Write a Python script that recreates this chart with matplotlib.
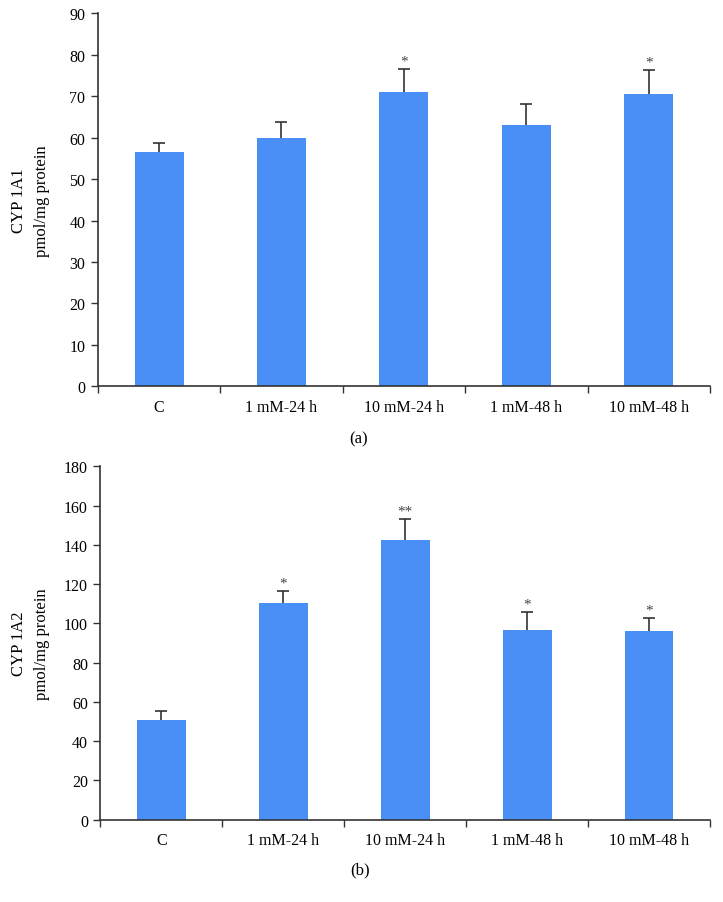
import matplotlib.pyplot as plt
import numpy as np

plt.rcParams['font.family'] = ['Liberation Serif', 'DejaVu Serif']

groups = ['C', '1 mM-24 h', '10 mM-24 h', '1 mM-48 h', '10 mM-48 h']

cyp1a1 = [56.5, 60.0, 71.0, 63.1, 70.5]
cyp1a1_err = [2.2, 3.8, 5.6, 4.9, 5.8]
cyp1a1_sig = ['', '', '*', '', '*']

cyp1a2 = [50.8, 110.5, 142.5, 96.8, 96.3]
cyp1a2_err = [4.5, 6.0, 10.7, 8.8, 6.6]
cyp1a2_sig = ['', '*', '**', '*', '*']

bar_color = '#4a8ff5'
axis_color = '#333333'


def draw_panel(ax, vals, errs, sig, ymax, ystep, ylabel, tag, label_x):
    x = np.arange(len(groups))
    ax.bar(x, vals, width=0.40, color=bar_color, zorder=2)
    _, caps, _ = ax.errorbar(x, vals, yerr=[np.zeros(len(vals)), errs], fmt='none',
                             ecolor=axis_color, elinewidth=1.2, capsize=4.5,
                             capthick=1.2, zorder=3)
    caps[0].set_visible(False)  # only the upper cap
    for xi, v, e, s in zip(x, vals, errs, sig):
        if s:
            ax.annotate(s, (xi, v + e), xytext=(0, 1), textcoords='offset points',
                        ha='center', va='bottom', fontsize=11, color='#444444')
    ax.set_xlim(-0.5, len(groups) - 0.5)
    ax.set_ylim(0, ymax)
    ax.set_yticks(np.arange(0, ymax + 1, ystep))
    ax.set_xticks(np.arange(len(groups) + 1) - 0.5)
    ax.set_xticklabels([])
    ax.set_xticks(x, minor=True)
    ax.set_xticklabels(groups, minor=True)
    ax.tick_params(axis='x', which='minor', length=0, pad=9, labelsize=11.5)
    ax.tick_params(axis='x', which='major', length=5, width=1, color=axis_color)
    ax.tick_params(axis='y', length=5, width=1, color=axis_color, labelsize=11.5, pad=4)
    for sp in ['top', 'right']:
        ax.spines[sp].set_visible(False)
    for sp in ['left', 'bottom']:
        ax.spines[sp].set_color(axis_color)
        ax.spines[sp].set_linewidth(1.2)
    ax.set_ylabel(ylabel, fontsize=12, linespacing=1.55)
    ax.yaxis.set_label_coords(label_x, 0.5)
    ax.text(0.426, -0.14, tag, transform=ax.transAxes, ha='center', va='center', fontsize=12)


fig = plt.figure(figsize=(7.23, 9.03), dpi=100)
ax1 = fig.add_axes([0.1353, 0.5711, 0.8467, 0.4131])
ax2 = fig.add_axes([0.1389, 0.0911, 0.8431, 0.3914])

draw_panel(ax1, cyp1a1, cyp1a1_err, cyp1a1_sig, 90, 10, 'CYP 1A1\npmol/mg protein', '(a)', -0.078)
draw_panel(ax2, cyp1a2, cyp1a2_err, cyp1a2_sig, 180, 20, 'CYP 1A2\npmol/mg protein', '(b)', -0.083)

fig.savefig('out.png', dpi=100)
